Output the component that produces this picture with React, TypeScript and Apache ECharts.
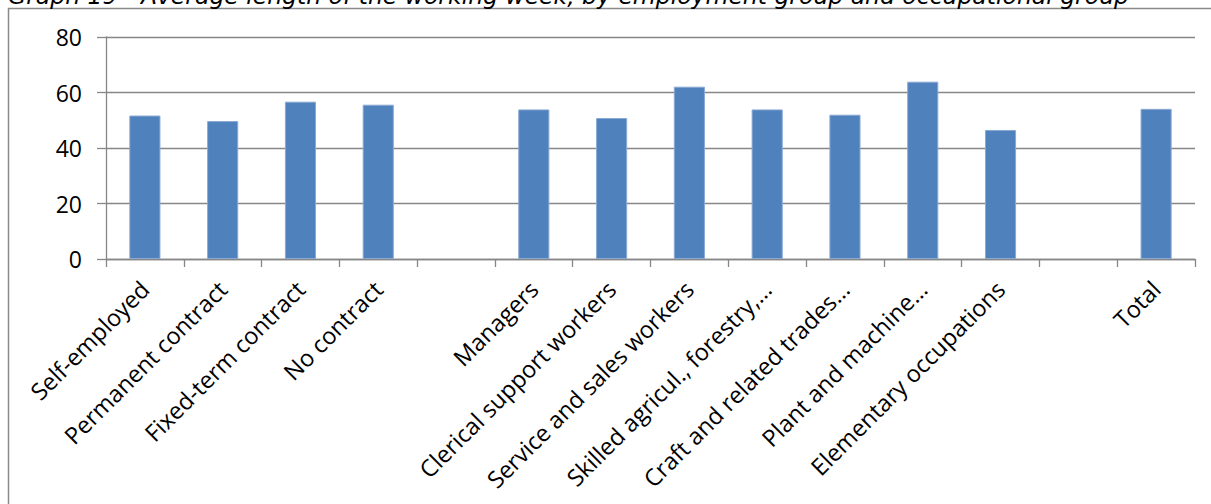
import React, { useEffect, useRef } from "react";
import * as echarts from "echarts";

const titleText =
  "Graph 19 - Average length of the working week, by employment group and occupational group";

const categories = [
  "Self-employed",
  "Permanent contract",
  "Fixed-term contract",
  "No contract",
  "",
  "Managers",
  "Clerical support workers",
  "Service and sales workers",
  "Skilled agricul., forestry,…",
  "Craft and related trades…",
  "Plant and machine…",
  "Elementary occupations",
  " ",
  "Total",
];

const hours: (number | null)[] = [
  51.7, 49.7, 56.7, 55.6, null, 53.9, 50.8, 62.1, 53.9, 52.0, 63.9, 46.5, null, 54.1,
];

const yTicks = { min: 0, max: 80, interval: 20 };

export default function App() {
  const ref = useRef<HTMLDivElement>(null);
  useEffect(() => {
    document.body.style.margin = "0";
    const chart = echarts.init(ref.current!, null, { renderer: "svg" });
    const font = "'Open Sans', sans-serif";
    chart.setOption({
      animation: false,
      backgroundColor: "#ffffff",
      grid: { left: 106, right: 16, top: 37, bottom: 245, containLabel: false },
      graphic: [
        {
          type: "rect",
          shape: { x: 8.5, y: 8.5, width: 1300, height: 600 },
          style: { fill: "none", stroke: "#8a8a8a", lineWidth: 1.5 },
          silent: true,
        },
        {
          type: "text",
          x: 8,
          y: 7,
          style: {
            text: titleText,
            font: "italic 23.5px 'DejaVu Sans', Verdana, sans-serif",
            fill: "#000",
            textVerticalAlign: "bottom",
            textAlign: "left",
          },
        },
      ],
      xAxis: {
        type: "category",
        data: categories,
        boundaryGap: true,
        axisLine: { show: true, lineStyle: { color: "#878787", width: 1.3 } },
        axisTick: { show: true, length: 8, alignWithLabel: false, lineStyle: { color: "#878787", width: 1.3 } },
        axisLabel: {
          interval: 0,
          rotate: 45,
          margin: 26,
          color: "#000",
          fontFamily: font,
          fontSize: 23.5,
        },
        splitLine: { show: false },
      },
      yAxis: {
        type: "value",
        min: yTicks.min,
        max: yTicks.max,
        interval: yTicks.interval,
        axisLine: { show: true, lineStyle: { color: "#878787", width: 1.3 } },
        axisTick: { show: true, length: 9, lineStyle: { color: "#878787", width: 1.3 } },
        axisLabel: { margin: 24, color: "#000", fontFamily: font, fontSize: 23 },
        splitLine: { show: true, lineStyle: { color: "#878787", width: 1.3 } },
      },
      series: [
        {
          type: "bar",
          data: hours,
          barWidth: "40%",
          itemStyle: { color: "#4F81BD", borderColor: "#8AA9D3", borderWidth: 1 },
        },
      ],
    });
    return () => chart.dispose();
  }, []);
  return <div ref={ref} style={{ width: 1211, height: 504 }} />;
}
